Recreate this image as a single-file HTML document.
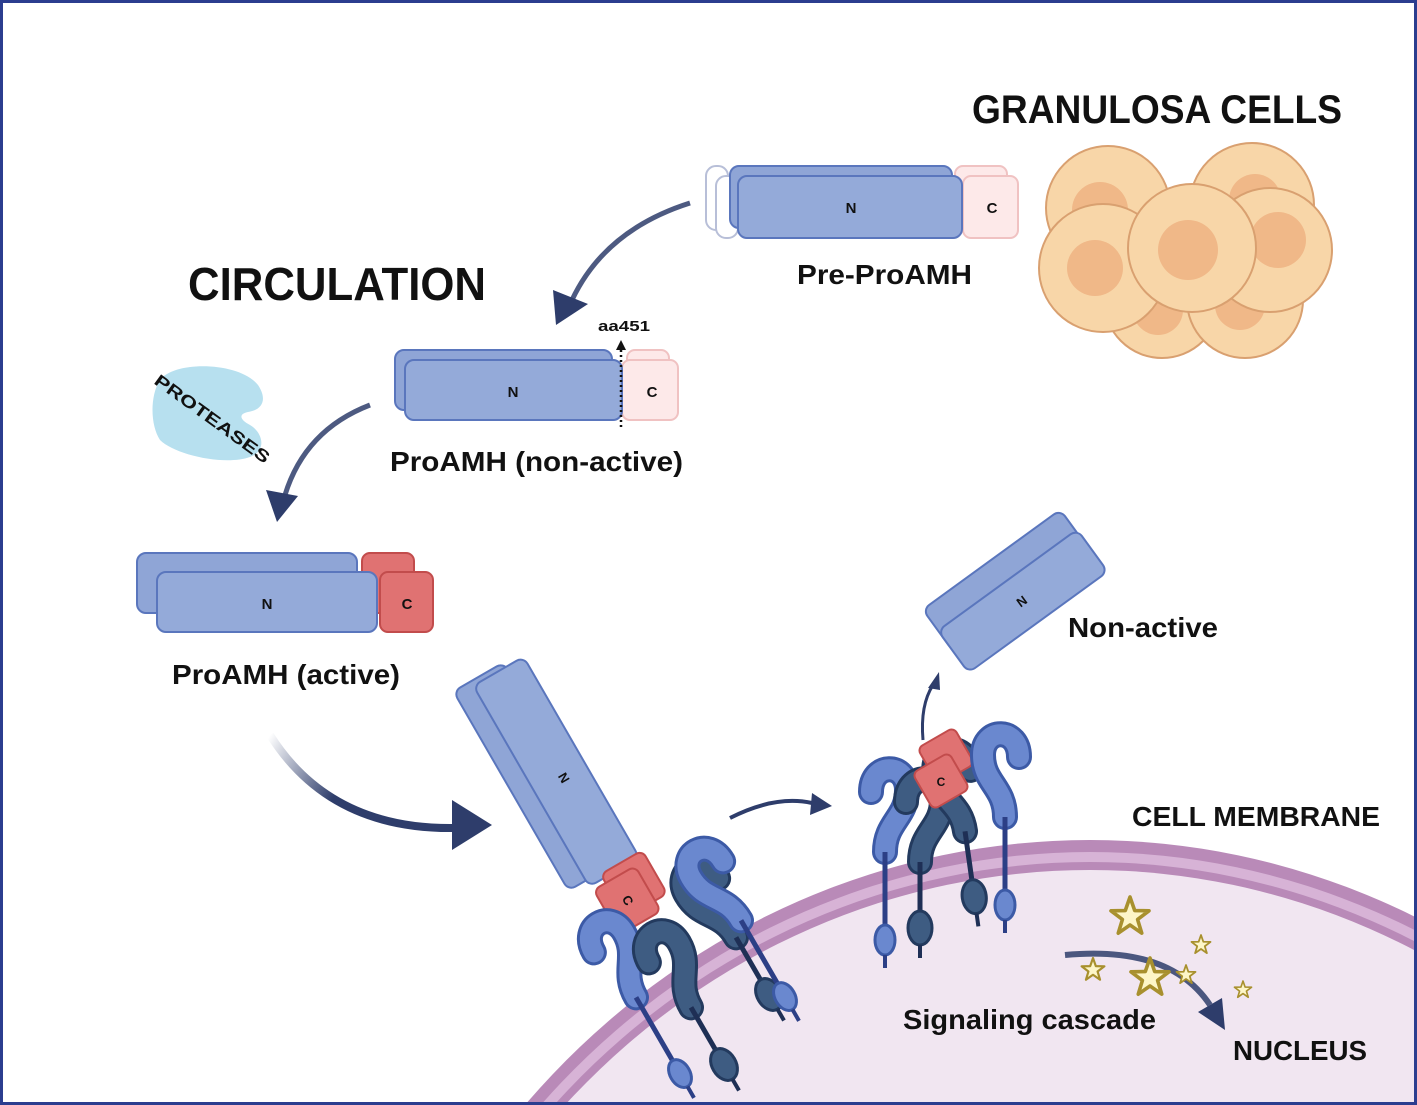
<!DOCTYPE html>
<html><head><meta charset="utf-8"><style>
html,body{margin:0;padding:0;background:#fff;width:1417px;height:1105px;overflow:hidden}
svg{display:block}
text{font-family:"Liberation Sans",sans-serif;font-weight:bold;fill:#111}
</style></head><body>
<svg width="1417" height="1105" viewBox="0 0 1417 1105" xmlns="http://www.w3.org/2000/svg">
<defs>
<linearGradient id="fade2" x1="0" y1="0" x2="1" y2="0.3"><stop offset="0" stop-color="#2e3d6b" stop-opacity="0"/><stop offset="0.5" stop-color="#2e3d6b"/></linearGradient>
<clipPath id="frame"><rect x="3" y="3" width="1411" height="1099"/></clipPath>
<g id="recL">
  <path d="M-14,12 C-14,-18 22,-18 22,10 C22,38 0,42 0,72" fill="none" stroke="#3c5aa6" stroke-width="26" stroke-linecap="round"/>
  <path d="M-14,12 C-14,-18 22,-18 22,10 C22,38 0,42 0,72" fill="none" stroke="#6a88cf" stroke-width="20" stroke-linecap="round"/>
  <line x1="0" y1="72" x2="0" y2="150" stroke="#2c3f86" stroke-width="5"/>
  <ellipse cx="0" cy="160" rx="10" ry="15" fill="#6a88cf" stroke="#3c5aa6" stroke-width="3"/>
  <line x1="0" y1="175" x2="0" y2="188" stroke="#2c3f86" stroke-width="4"/>
</g>
<g id="recD">
  <path d="M-14,12 C-14,-18 22,-18 22,10 C22,38 0,42 0,72" fill="none" stroke="#233a5e" stroke-width="26" stroke-linecap="round"/>
  <path d="M-14,12 C-14,-18 22,-18 22,10 C22,38 0,42 0,72" fill="none" stroke="#3e5c82" stroke-width="20" stroke-linecap="round"/>
  <line x1="0" y1="72" x2="0" y2="125" stroke="#1e2f55" stroke-width="5"/>
  <ellipse cx="0" cy="138" rx="12" ry="17" fill="#3e5c82" stroke="#233a5e" stroke-width="3"/>
  <line x1="0" y1="155" x2="0" y2="168" stroke="#1e2f55" stroke-width="4"/>
</g>
<g id="recLm"><use href="#recL" transform="scale(-1,1)"/></g>
<g id="recDm"><use href="#recD" transform="scale(-1,1)"/></g>
<g id="star"><polygon points="0,-1 0.235,-0.324 0.951,-0.309 0.38,0.124 0.588,0.809 0,0.4 -0.588,0.809 -0.38,0.124 -0.951,-0.309 -0.235,-0.324" fill="#fdf6c8" stroke="#a8902e" stroke-width="0.18" stroke-linejoin="round"/></g>
</defs>

<g clip-path="url(#frame)">
<g clip-path="url(#frame)">
<ellipse cx="1090" cy="1640" rx="760" ry="800" fill="#b98ab8"/>
<ellipse cx="1090" cy="1640" rx="748" ry="788" fill="#d7b3d6"/>
<ellipse cx="1090" cy="1640" rx="738" ry="778" fill="#b98ab8"/>
<ellipse cx="1090" cy="1640" rx="730" ry="770" fill="#f1e6f1"/>
</g>

<g stroke="#d9a070" stroke-width="2">
<circle cx="1108" cy="208" r="62" fill="#f8d6a8"/><circle cx="1100" cy="210" r="28" fill="#f0b888" stroke="none"/>
<circle cx="1252" cy="205" r="62" fill="#f8d6a8"/><circle cx="1255" cy="200" r="26" fill="#f0b888" stroke="none"/>
<circle cx="1162" cy="300" r="58" fill="#f8d6a8"/><circle cx="1158" cy="310" r="25" fill="#f0b888" stroke="none"/>
<circle cx="1245" cy="300" r="58" fill="#f8d6a8"/><circle cx="1240" cy="305" r="25" fill="#f0b888" stroke="none"/>
<circle cx="1103" cy="268" r="64" fill="#f8d6a8"/><circle cx="1095" cy="268" r="28" fill="#f0b888" stroke="none"/>
<circle cx="1270" cy="250" r="62" fill="#f8d6a8"/><circle cx="1278" cy="240" r="28" fill="#f0b888" stroke="none"/>
<circle cx="1192" cy="248" r="64" fill="#f8d6a8"/><circle cx="1188" cy="250" r="30" fill="#f0b888" stroke="none"/>
</g>

<rect x="706" y="166" width="22" height="64" rx="10" fill="#fff" stroke="#b8bfd8" stroke-width="2"/>
<rect x="716" y="176" width="22" height="62" rx="10" fill="#fff" stroke="#b8bfd8" stroke-width="2"/>
<rect x="955" y="166" width="52" height="62" rx="8" fill="#fde9e9" stroke="#f0c2c2" stroke-width="2"/>
<rect x="963" y="176" width="55" height="62" rx="8" fill="#fde9e9" stroke="#f0c2c2" stroke-width="2"/>
<rect x="730" y="166" width="222" height="62" rx="9" fill="#8fa5d6" stroke="#5a76bd" stroke-width="2"/>
<rect x="738" y="176" width="224" height="62" rx="9" fill="#94aad9" stroke="#5a76bd" stroke-width="2"/>
<text x="851" y="213" font-size="15" text-anchor="middle">N</text>
<text x="992" y="213" font-size="15" text-anchor="middle">C</text>

<rect x="627" y="350" width="42" height="60" rx="8" fill="#fde9e9" stroke="#f0c2c2" stroke-width="2"/>
<rect x="622" y="360" width="56" height="60" rx="8" fill="#fde9e9" stroke="#f0c2c2" stroke-width="2"/>
<rect x="395" y="350" width="217" height="60" rx="9" fill="#8fa5d6" stroke="#5a76bd" stroke-width="2"/>
<rect x="405" y="360" width="217" height="60" rx="9" fill="#94aad9" stroke="#5a76bd" stroke-width="2"/>
<text x="513" y="397" font-size="15" text-anchor="middle">N</text>
<text x="652" y="397" font-size="15" text-anchor="middle">C</text>
<line x1="621" y1="350" x2="621" y2="430" stroke="#111" stroke-width="2.5" stroke-dasharray="2,3"/>
<polygon points="621,340 616,350 626,350" fill="#111"/>
<text x="598" y="331" font-size="15" textLength="52" lengthAdjust="spacingAndGlyphs">aa451</text>

<path d="M160,380 C175,360 240,362 258,385 C268,400 262,410 248,412 C238,414 240,420 250,425 C262,432 268,450 250,457 C225,466 175,455 160,440 C150,425 150,395 160,380 Z" fill="#b7e0ef"/>
<text x="0" y="0" font-size="17" transform="translate(153,383) rotate(36)" textLength="138" lengthAdjust="spacingAndGlyphs">PROTEASES</text>

<rect x="362" y="553" width="52" height="60" rx="8" fill="#e07272" stroke="#c24c4c" stroke-width="2"/>
<rect x="380" y="572" width="53" height="60" rx="8" fill="#e07272" stroke="#c24c4c" stroke-width="2"/>
<rect x="137" y="553" width="220" height="60" rx="9" fill="#8fa5d6" stroke="#5a76bd" stroke-width="2"/>
<rect x="157" y="572" width="220" height="60" rx="9" fill="#94aad9" stroke="#5a76bd" stroke-width="2"/>
<text x="267" y="609" font-size="15" text-anchor="middle">N</text>
<text x="407" y="609" font-size="15" text-anchor="middle">C</text>

<path d="M690,203 Q605,230 572,300" fill="none" stroke="#2e3d6b" stroke-width="5" stroke-opacity="0.85"/>
<polygon points="556,325 553,290 588,304" fill="#2e3d6b"/>
<path d="M370,405 Q305,430 285,495" fill="none" stroke="#2e3d6b" stroke-width="5" stroke-opacity="0.85"/>
<polygon points="277,522 266,490 298,496" fill="#2e3d6b"/>
<path d="M270,735 Q330,830 455,828" fill="none" stroke="url(#fade2)" stroke-width="8"/>
<polygon points="492,825 452,850 452,800" fill="#2e3d6b"/>
<path d="M730,818 Q775,795 812,803" fill="none" stroke="#2e3d6b" stroke-width="4"/>
<polygon points="832,806 810,815 812,793" fill="#2e3d6b"/>
<path d="M923,740 Q920,705 933,685" fill="none" stroke="#2e3d6b" stroke-width="3"/>
<polygon points="939,672 928,688 940,690" fill="#2e3d6b"/>
<path d="M1065,955 Q1170,945 1210,1005" fill="none" stroke="#2e3d6b" stroke-width="6" stroke-opacity="0.85"/>
<polygon points="1225,1030 1198,1012 1222,998" fill="#2e3d6b"/>

<g transform="translate(1015,592) rotate(-36)">
<rect x="-85" y="-40" width="170" height="52" rx="8" fill="#8fa5d6" stroke="#5a76bd" stroke-width="2"/>
<rect x="-85" y="-14" width="172" height="52" rx="8" fill="#94aad9" stroke="#5a76bd" stroke-width="2"/>
<text x="0" y="16" font-size="13" text-anchor="middle">N</text>
</g>

<g transform="translate(560,780) rotate(-30)">
<rect x="-48" y="-130" width="58" height="230" rx="8" fill="#8fa5d6" stroke="#5a76bd" stroke-width="2"/>
<rect x="-28" y="-125" width="58" height="232" rx="8" fill="#94aad9" stroke="#5a76bd" stroke-width="2"/>
<text x="0" y="0" font-size="13" text-anchor="middle" transform="rotate(90)">N</text>
<rect x="-12" y="102" width="48" height="50" rx="7" fill="#e07272" stroke="#c24c4c" stroke-width="2"/>
<rect x="-26" y="112" width="48" height="52" rx="7" fill="#e07272" stroke="#c24c4c" stroke-width="2"/>
<text x="-2" y="142" font-size="13" text-anchor="middle" transform="rotate(90,-2,138)">C</text>
</g>

<g transform="translate(600,935) rotate(-30)"><use href="#recL"/></g>
<g transform="translate(655,945) rotate(-30)"><use href="#recD"/></g>
<g transform="translate(700,875) rotate(-30)"><use href="#recDm"/></g>
<g transform="translate(705,858) rotate(-30)"><use href="#recLm"/></g>

<g transform="translate(885,780)"><use href="#recL"/></g>
<g transform="translate(920,790)"><use href="#recD"/></g>
<g transform="translate(955,760) rotate(-8)"><use href="#recDm"/></g>
<rect x="925" y="735" width="42" height="42" rx="6" transform="rotate(-30,946,756)" fill="#e07272" stroke="#c24c4c" stroke-width="2"/>
<rect x="920" y="760" width="42" height="42" rx="6" transform="rotate(-30,941,781)" fill="#e07272" stroke="#c24c4c" stroke-width="2"/>
<text x="941" y="786" font-size="12" text-anchor="middle">C</text>
<g transform="translate(1005,745)"><use href="#recLm"/></g>

<use href="#star" transform="translate(1130,917) scale(20)"/>
<use href="#star" transform="translate(1150,978) scale(20)"/>
<use href="#star" transform="translate(1093,970) scale(12)"/>
<use href="#star" transform="translate(1201,945) scale(10)"/>
<use href="#star" transform="translate(1186,975) scale(10)"/>
<use href="#star" transform="translate(1243,990) scale(9)"/>
</g>

<text x="972" y="123" font-size="40" textLength="370" lengthAdjust="spacingAndGlyphs">GRANULOSA CELLS</text>
<text x="188" y="300" font-size="46" textLength="298" lengthAdjust="spacingAndGlyphs">CIRCULATION</text>
<text x="797" y="284" font-size="28" textLength="175" lengthAdjust="spacingAndGlyphs">Pre-ProAMH</text>
<text x="390" y="471" font-size="28" textLength="293" lengthAdjust="spacingAndGlyphs">ProAMH (non-active)</text>
<text x="172" y="684" font-size="28" textLength="228" lengthAdjust="spacingAndGlyphs">ProAMH (active)</text>
<text x="1068" y="637" font-size="28" textLength="150" lengthAdjust="spacingAndGlyphs">Non-active</text>
<text x="1132" y="826" font-size="28" textLength="248" lengthAdjust="spacingAndGlyphs">CELL MEMBRANE</text>
<text x="903" y="1029" font-size="28" textLength="253" lengthAdjust="spacingAndGlyphs">Signaling cascade</text>
<text x="1233" y="1060" font-size="28" textLength="134" lengthAdjust="spacingAndGlyphs">NUCLEUS</text>

<rect x="1.5" y="1.5" width="1414" height="1102" fill="none" stroke="#2b3d8f" stroke-width="3"/>
</svg>
</body></html>
